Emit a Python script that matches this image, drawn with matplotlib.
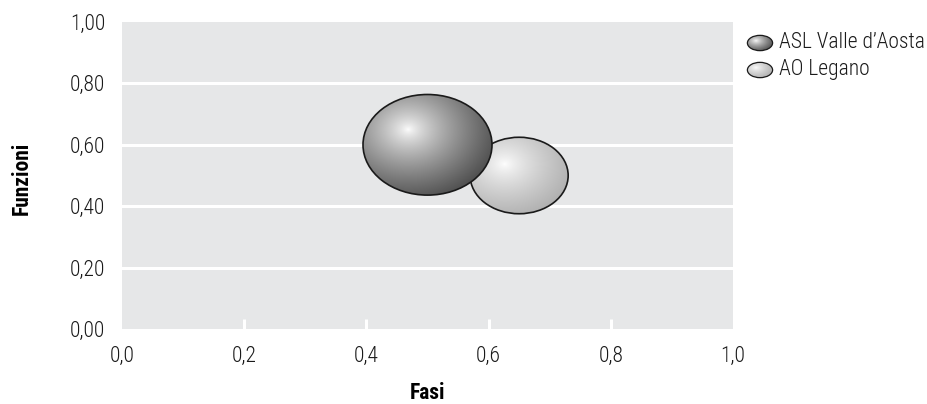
import numpy as np
import matplotlib
matplotlib.use("Agg")
import matplotlib.pyplot as plt
from matplotlib.patches import Ellipse
from matplotlib import font_manager

# bubble data
labels = ["ASL Valle d\u2019Aosta", "AO Legano"]
fasi = [0.50, 0.65]
funzioni = [0.60, 0.50]
bubble_size = [1.00, 0.76]

x_ticks = [0.0, 0.2, 0.4, 0.6, 0.8, 1.0]
y_ticks = [0.0, 0.2, 0.4, 0.6, 0.8, 1.0]

# shading: (edge colour, highlight colour)
shades = [((0.25, 0.25, 0.25), (1.0, 1.0, 1.0)),
          ((0.66, 0.66, 0.66), (1.0, 1.0, 1.0))]

names = {f.name for f in font_manager.fontManager.ttflist}
FONT = "DejaVu Sans"
for cand in ["Roboto Condensed", "Liberation Sans Narrow", "Roboto"]:
    if cand in names:
        FONT = cand
        break
plt.rcParams["font.family"] = [FONT, "DejaVu Sans"]
FS = 15.5


def gradient_img(edge, hi, n=200):
    # radial gradient with highlight towards the upper-left
    yy, xx = np.mgrid[-1:1:complex(0, n), -1:1:complex(0, n)]
    cx, cy = -0.3, 0.3
    d = np.sqrt((xx - cx) ** 2 + (yy - cy) ** 2) / 1.6
    d = np.clip(d, 0, 1) ** 0.75
    img = np.zeros((n, n, 3))
    for c in range(3):
        img[..., c] = hi[c] * (1 - d) + edge[c] * d
    return img


def draw_bubble(ax, x, y, w, h, edge, hi, lw=1.0, z=3):
    ell = Ellipse((x, y), w, h, facecolor="none", edgecolor="#1a1a1a", lw=lw, zorder=z + 0.5)
    ax.add_patch(ell)
    im = ax.imshow(gradient_img(edge, hi), extent=(x - w / 2, x + w / 2, y - h / 2, y + h / 2),
                   origin="lower", zorder=z, interpolation="bilinear", aspect="auto")
    im.set_clip_path(ell)


fig = plt.figure(figsize=(9.28, 4.04), dpi=100)
W, H = 928, 404
ax = fig.add_axes([122 / W, 1 - 329 / H, (733 - 122) / W, (329 - 22) / H])
ax.set_facecolor("#e6e7e8")
ax.set_xlim(0, 1)
ax.set_ylim(0, 1)

for v in y_ticks[1:-1]:
    ax.axhline(v, color="white", lw=2.2, zorder=1)
for v in x_ticks[1:-1]:
    ax.plot([v, v], [0, 0.033], color="white", lw=2.2, zorder=1, solid_capstyle="butt")

# bubble width in pixels proportional to size; ellipse aspect as in the reference
ax_w_px, ax_h_px = 733 - 122, 329 - 22
base_px = 129
for i in range(len(fasi)):
    wpx = base_px * bubble_size[i]
    hpx = wpx * 0.78
    draw_bubble(ax, fasi[i], funzioni[i], wpx / ax_w_px, hpx / ax_h_px,
                shades[i][0], shades[i][1], lw=1.2, z=3 + (len(fasi) - i))

for s in ax.spines.values():
    s.set_visible(False)
ax.set_xticks(x_ticks)
ax.set_xticklabels([f"{v:.1f}".replace(".", ",") for v in x_ticks])
ax.set_yticks(y_ticks)
ax.set_yticklabels([f"{v:.2f}".replace(".", ",") for v in y_ticks])
ax.tick_params(length=0, labelsize=FS, colors="#1a1a1a")
ax.tick_params(axis="x", pad=12)
ax.tick_params(axis="y", pad=12)
for t in ax.get_xticklabels() + ax.get_yticklabels():
    t.set_fontweight("light")
ax.set_xlabel("Fasi", fontsize=FS, fontweight="bold", va="center")
ax.xaxis.set_label_coords(0.5, -0.21)
ax.set_ylabel("Funzioni", fontsize=FS, fontweight="bold", va="center")
ax.yaxis.set_label_coords(-0.164, 0.49)

# legend: small shaded ellipses + labels
for i, lab in enumerate(labels):
    yc = 43 + 27 * i
    lax = fig.add_axes([746 / W, 1 - (yc + 9) / H, 28 / W, 18 / H])
    lax.set_xlim(0, 1)
    lax.set_ylim(0, 1)
    lax.axis("off")
    draw_bubble(lax, 0.5, 0.5, 0.9, 0.85, shades[i][0], shades[i][1], lw=0.9)
    fig.text(779 / W, 1 - yc / H, lab, fontsize=FS, va="center", ha="left",
             color="#1a1a1a", fontweight="light")

fig.savefig("out.png", dpi=100)
